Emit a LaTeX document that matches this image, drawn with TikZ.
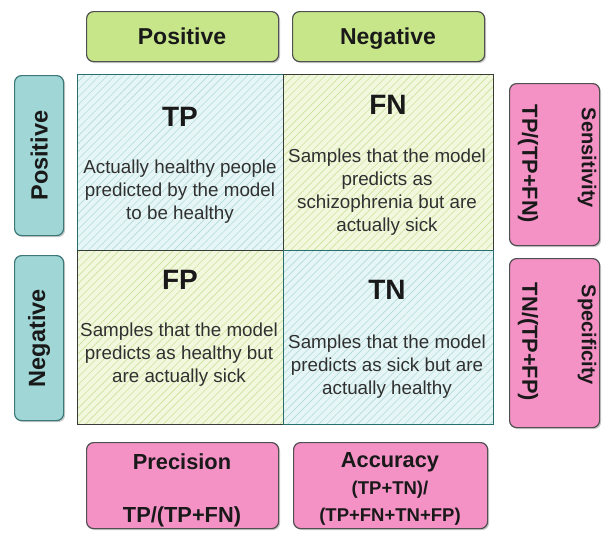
\documentclass[tikz,border=0pt]{standalone}
\usepackage{fontspec}
\setmainfont{Liberation Sans}
\usetikzlibrary{patterns.meta,shadows}
\definecolor{gfill}{RGB}{199,230,138}
\definecolor{tfill}{RGB}{160,214,214}
\definecolor{tedge}{RGB}{60,120,120}
\definecolor{pfill}{RGB}{244,146,198}
\definecolor{bedge}{RGB}{80,80,80}
\definecolor{tpfill}{RGB}{230,246,246}
\definecolor{tphatch}{RGB}{180,218,218}
\definecolor{fnfill}{RGB}{242,248,222}
\definecolor{fnhatch}{RGB}{205,226,155}
\definecolor{celledgeT}{RGB}{40,110,110}
\definecolor{celledgeD}{RGB}{55,60,55}
\definecolor{txt}{RGB}{25,25,25}
\tikzset{
  boxbase/.style={draw=bedge, line width=1.2pt, rounded corners=7pt, inner sep=0pt,
    drop shadow={shadow xshift=1.5pt, shadow yshift=-1.5pt, fill=black!35, opacity=0.6}},
  greenbox/.style={boxbase, fill=gfill, anchor=north west},
  tealbox/.style={boxbase, draw=tedge, fill=tfill, anchor=north west},
  pinkbox/.style={boxbase, fill=pfill, anchor=north west},
  cellT/.style={draw=celledgeT, line width=1.4pt, inner sep=0pt, anchor=north west,
    preaction={fill=tpfill},
    preaction={pattern={Lines[angle=45,distance=5.5pt,line width=0.6pt]}, pattern color=tphatch}},
  cellF/.style={draw=celledgeD, line width=1.4pt, inner sep=0pt, anchor=north west,
    preaction={fill=fnfill},
    preaction={pattern={Lines[angle=45,distance=5.5pt,line width=0.6pt]}, pattern color=fnhatch}},
  headtext/.style={text=txt, anchor=base, inner sep=0pt, font=\fontsize{23}{26}\selectfont\bfseries},
  celltitle/.style={text=txt, font=\fontsize{28}{30}\selectfont\bfseries},
  celldesc/.style={text=txt!90, align=center, inner sep=0pt, font=\fontsize{18.8}{23}\selectfont},
  lefttext/.style={text=txt, font=\fontsize{23.5}{26}\selectfont\bfseries},
  sidetext/.style={text=txt, font=\fontsize{20}{22}\selectfont\bfseries},
  formula/.style={text=txt, font=\fontsize{21.8}{24}\selectfont\bfseries},
  smallformula/.style={text=txt, font=\fontsize{18.5}{21}\selectfont\bfseries}
}
\begin{document}
\begin{tikzpicture}[x=1pt,y=-1pt]
\useasboundingbox[fill=white] (0,0) rectangle (603,533);

% top header boxes
\node[greenbox, minimum width=192pt, minimum height=50pt] (hpos) at (86,11) {};
\node[headtext] (hpost) at (182,44) {Positive};
\node[greenbox, minimum width=192pt, minimum height=50pt] (hneg) at (292,11) {};
\node[headtext] (hnegt) at (388,44) {Negative};

% left boxes
\node[tealbox, minimum width=49pt, minimum height=160pt] (lpos) at (14,75) {};
\node[lefttext, rotate=90] (lpost) at (lpos.center) {Positive};
\node[tealbox, minimum width=49pt, minimum height=165pt] (lneg) at (14,255) {};
\node[lefttext, rotate=90] (lnegt) at (lneg.center) {Negative};

% cells
\node[cellT, minimum width=206pt, minimum height=176pt] (tp) at (77,74) {};
\node[cellF, minimum width=210pt, minimum height=176pt] (fn) at (283,74) {};
\node[cellF, minimum width=206pt, minimum height=174pt] (fp) at (77,250) {};
\node[cellT, minimum width=210pt, minimum height=174pt] (tn) at (283,250) {};

\node[celltitle] (tpt) at (180,117) {TP};
\node[celldesc] (tpd) at (180,192) {Actually healthy people\\predicted by the model\\to be healthy};
\node[celltitle] (fnt) at (388,105) {FN};
\node[celldesc] (fnd) at (387,192) {Samples that the model\\predicts as\\schizophrenia but are\\actually sick};
\node[celltitle] (fpt) at (180,280) {FP};
\node[celldesc] (fpd) at (179,355) {Samples that the model\\predicts as healthy but\\are actually sick};
\node[celltitle] (tnt) at (387,290) {TN};
\node[celldesc] (tnd) at (387,367) {Samples that the model\\predicts as sick but are\\actually healthy};

% right boxes
\node[pinkbox, minimum width=90pt, minimum height=162pt] (sens) at (509,83) {};
\node[sidetext, rotate=-90] (senst) at (587,158) {Sensitivity};
\node[formula, rotate=-90] (sensf) at (528,164) {TP/(TP+FN)};
\node[pinkbox, minimum width=90pt, minimum height=169pt] (spec) at (509,258) {};
\node[sidetext, rotate=-90] (spect) at (587,335) {Specificity};
\node[formula, rotate=-90] (specf) at (528,342) {TN/(TP+FP)};

% bottom boxes
\node[pinkbox, minimum width=192pt, minimum height=86pt] (prec) at (86,442) {};
\node[formula] (prect) at (182,462) {Precision};
\node[formula] (precf) at (182,517) {TP/(TP+FN)};
\node[pinkbox, minimum width=194pt, minimum height=86pt] (acc) at (293,442) {};
\node[formula] (acct) at (390,462) {Accuracy};
\node[smallformula] (accf1) at (390,490) {(TP+TN)/};
\node[smallformula] (accf2) at (390,517) {(TP+FN+TN+FP)};
\end{tikzpicture}
\end{document}
